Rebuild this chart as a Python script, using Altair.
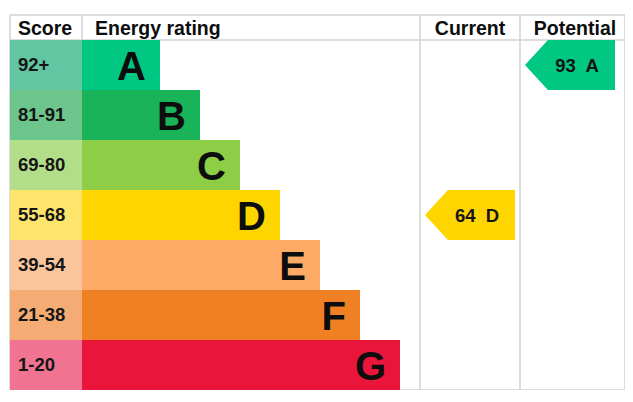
import altair as alt
import pandas as pd

# ---- data ----
ratings = ["A", "B", "C", "D", "E", "F", "G"]
score_ranges = ["92+", "81-91", "69-80", "55-68", "39-54", "21-38", "1-20"]
range_low = [92, 81, 69, 55, 39, 21, 1]
bar_lengths = [78, 118, 158, 198, 238, 278, 318]
bar_colors = ["#00c781", "#19b459", "#8dce46", "#ffd500", "#fcaa65", "#ef8023", "#e9153b"]
score_colors = ["#62c6a2", "#6cc68c", "#b2de8a", "#fde46c", "#fbc59c", "#f4ac74", "#f07391"]

headers = ["Score", "Energy rating", "Current", "Potential"]
header_x = [8, 85, 460, 565]
header_align = ["left", "left", "center", "center"]

column_edges = [0, 72, 410, 510, 615]
line_rows = [-0.5, 0, 7]

arrow_labels = ["Current", "Potential"]
arrow_scores = [64, 93]
arrow_x = [460, 560]

# ---- tables ----
rows = pd.DataFrame({
    "rating": ratings,
    "range": score_ranges,
    "low": range_low,
    "len": bar_lengths,
    "bar_color": bar_colors,
    "score_color": score_colors,
})
rows["i"] = range(len(ratings))
rows["i2"] = rows["i"] + 1
rows["mid"] = rows["i"] + 0.5
rows["x0"] = column_edges[1]
rows["x1"] = column_edges[1] + rows["len"]
rows["sx0"] = column_edges[0]
rows["sx"] = 8


def band_of(score):
    for k, lo in enumerate(range_low):
        if score >= lo:
            return k
    return len(range_low) - 1


arrows = pd.DataFrame({"col": arrow_labels, "score": arrow_scores, "x": arrow_x})
arrows["k"] = arrows["score"].apply(band_of)
arrows["y"] = arrows["k"] + 0.5
arrows["rating"] = arrows["k"].apply(lambda k: ratings[k])
arrows["color"] = arrows["k"].apply(lambda k: bar_colors[k])
arrows["label"] = arrows["score"].astype(str) + "\u00a0 " + arrows["rating"]

hdr = pd.DataFrame({"text": headers, "x": header_x, "align": header_align})
hdr["y"] = -0.25

vlines = pd.DataFrame({"x": column_edges})
vlines["y"] = line_rows[0]
vlines["y2"] = line_rows[-1]
hlines = pd.DataFrame({"y": line_rows})
hlines["x"] = column_edges[0]
hlines["x2"] = column_edges[-1]

xs = alt.Scale(domain=[column_edges[0], column_edges[-1]], nice=False, zero=False)
ys = alt.Scale(domain=[line_rows[0], line_rows[-1]], nice=False, zero=False, reverse=True)
FONT = "Liberation Sans"
GRID = "#d2d2d2"

vl = alt.Chart(vlines).mark_rule(color=GRID, strokeWidth=1.5).encode(
    x=alt.X("x:Q", scale=xs, axis=None),
    y=alt.Y("y:Q", scale=ys, axis=None),
    y2="y2:Q",
)
hl = alt.Chart(hlines).mark_rule(color=GRID, strokeWidth=1.5).encode(
    x=alt.X("x:Q", scale=xs, axis=None),
    x2="x2:Q",
    y=alt.Y("y:Q", scale=ys, axis=None),
)

score_cells = alt.Chart(rows).mark_rect().encode(
    x=alt.X("sx0:Q", scale=xs, axis=None),
    x2="x0:Q",
    y=alt.Y("i:Q", scale=ys, axis=None),
    y2="i2:Q",
    color=alt.Color("score_color:N", scale=None),
)

bars = alt.Chart(rows).mark_rect().encode(
    x=alt.X("x0:Q", scale=xs, axis=None),
    x2="x1:Q",
    y=alt.Y("i:Q", scale=ys, axis=None),
    y2="i2:Q",
    color=alt.Color("bar_color:N", scale=None),
)

letters = alt.Chart(rows).mark_text(
    font=FONT, fontWeight="bold", fontSize=40, align="right", baseline="alphabetic",
    dx=-14, dy=14.5, color="#0d0d0d",
).encode(
    x=alt.X("x1:Q", scale=xs, axis=None),
    y=alt.Y("mid:Q", scale=ys, axis=None),
    text="rating:N",
)

score_text = alt.Chart(rows).mark_text(
    font=FONT, fontWeight="bold", fontSize=18.5, align="left", baseline="alphabetic",
    dy=6, color="#151515",
).encode(
    x=alt.X("sx:Q", scale=xs, axis=None),
    y=alt.Y("mid:Q", scale=ys, axis=None),
    text="range:N",
)

hdr_left = alt.Chart(hdr[hdr["align"] == "left"]).mark_text(
    font=FONT, fontWeight="bold", fontSize=19.5, align="left", baseline="alphabetic",
    dy=7.5, color="#0d0d0d",
).encode(
    x=alt.X("x:Q", scale=xs, axis=None),
    y=alt.Y("y:Q", scale=ys, axis=None),
    text="text:N",
)
hdr_center = alt.Chart(hdr[hdr["align"] == "center"]).mark_text(
    font=FONT, fontWeight="bold", fontSize=19.5, align="center", baseline="alphabetic",
    dy=7.5, color="#0d0d0d",
).encode(
    x=alt.X("x:Q", scale=xs, axis=None),
    y=alt.Y("y:Q", scale=ys, axis=None),
    text="text:N",
)

ARROW = "M -1 0 L -0.49 -0.556 L 1 -0.556 L 1 0.556 L -0.49 0.556 Z"
arrow_marks = alt.Chart(arrows).mark_point(
    shape=ARROW, filled=True, size=8100, opacity=1, strokeWidth=0,
).encode(
    x=alt.X("x:Q", scale=xs, axis=None),
    y=alt.Y("y:Q", scale=ys, axis=None),
    color=alt.Color("color:N", scale=None),
)
arrow_text = alt.Chart(arrows).mark_text(
    font=FONT, fontWeight="bold", fontSize=18.5, align="center", baseline="alphabetic",
    dx=7, dy=6.5, color="#151515",
).encode(
    x=alt.X("x:Q", scale=xs, axis=None),
    y=alt.Y("y:Q", scale=ys, axis=None),
    text="label:N",
)

chart = alt.layer(
    vl, hl, score_cells, bars, letters, score_text, hdr_left, hdr_center, arrow_marks, arrow_text
).properties(
    width=615, height=375, autosize="none",
    padding={"left": 2, "top": 7, "right": 0, "bottom": 0},
    background="white",
).configure_view(stroke=None)

chart.save("out.html", embed_options={"renderer": "svg", "actions": False})
